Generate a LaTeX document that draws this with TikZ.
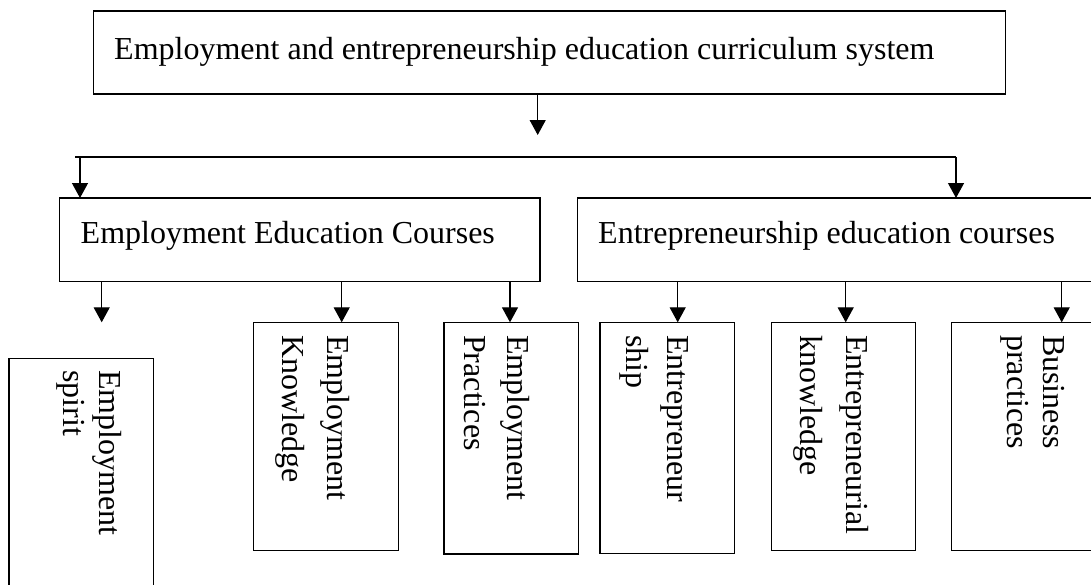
\documentclass[tikz,border=0pt]{standalone}
\usepackage{fontspec}
\setmainfont{Liberation Serif}
\usetikzlibrary{arrows.meta}
\begin{document}
\begin{tikzpicture}[x=1pt,y=-1pt,
  box/.style={draw, line width=1.3pt, inner sep=0pt, outer sep=0pt, anchor=north west},
  lbl/.style={inner sep=0pt, anchor=base west, font=\fontsize{32}{36}\selectfont},
  vlbl/.style={inner sep=0pt, anchor=north west, rotate=-90, align=left, font=\fontsize{32}{#1}\selectfont},
  arr/.style={line width=1.3pt, -{Triangle[width=16pt,length=15pt]}},
  bar/.style={line width=1.8pt},
]
\useasboundingbox (0,0) rectangle (1091,584);
\clip (0,0) rectangle (1091,584);
% boxes
\node[box, minimum width=912.4pt, minimum height=83pt] (top) at (93.3,11) {};
\node[box, minimum width=480.7pt, minimum height=83.7pt] (emp) at (59.3,198) {};
\node[box, minimum width=542.5pt, minimum height=83.7pt] (ent) at (577.5,198) {};
\node[box, minimum width=144.7pt, minimum height=241.3pt] (sp) at (9,358.7) {};
\node[box, minimum width=145pt, minimum height=228.4pt] (kn) at (253.3,322.3) {};
\node[box, minimum width=134.3pt, minimum height=231.7pt] (pr) at (444,322.3) {};
\node[box, minimum width=134.3pt, minimum height=231pt] (es) at (600,322.3) {};
\node[box, minimum width=144pt, minimum height=228.4pt] (ek) at (771.7,322.3) {};
\node[box, minimum width=168.3pt, minimum height=228.4pt] (bp) at (951.7,322.3) {};
% texts
\node[lbl] (toptxt) at (114,59) {Employment and entrepreneurship education curriculum system};
\node[lbl] (emptxt) at (80.5,243.5) {Employment Education Courses};
\node[lbl] (enttxt) at (598,243) {Entrepreneurship education courses};
\node[vlbl=36] (sptxt) at (121.7,370) {Employment\\spirit};
\node[vlbl=45] (kntxt) at (349.7,335) {Employment\\Knowledge};
\node[vlbl=43] (prtxt) at (529.7,335) {Employment\\Practices};
\node[vlbl=41] (estxt) at (688.7,335) {Entrepreneur\\ship};
\node[vlbl=46] (ektxt) at (868.7,335) {Entrepreneurial\\knowledge};
\node[vlbl=36] (bptxt) at (1064.7,335) {Business\\practices};
% connectors
\coordinate (c0) at (537.7,135);
\coordinate (hl) at (75,157);
\coordinate (hr) at (956,157);
\coordinate (free) at (101.7,322.3);
\draw[arr] (c0 |- top.south) -- (c0);
\draw[bar] (hl) -- (hr);
\draw[arr] (80,0 |- hl) -- (80,0 |- emp.north);
\draw[arr] (hr) -- (hr |- ent.north);
\draw[arr] (free |- emp.south) -- (free);
\draw[arr] (341.7,0 |- emp.south) -- (341.7,0 |- kn.north);
\draw[arr] (510,0 |- emp.south) -- (510,0 |- pr.north);
\draw[arr] (677.7,0 |- ent.south) -- (677.7,0 |- es.north);
\draw[arr] (845.7,0 |- ent.south) -- (845.7,0 |- ek.north);
\draw[arr] (1061.7,0 |- ent.south) -- (1061.7,0 |- bp.north);
\end{tikzpicture}
\end{document}
